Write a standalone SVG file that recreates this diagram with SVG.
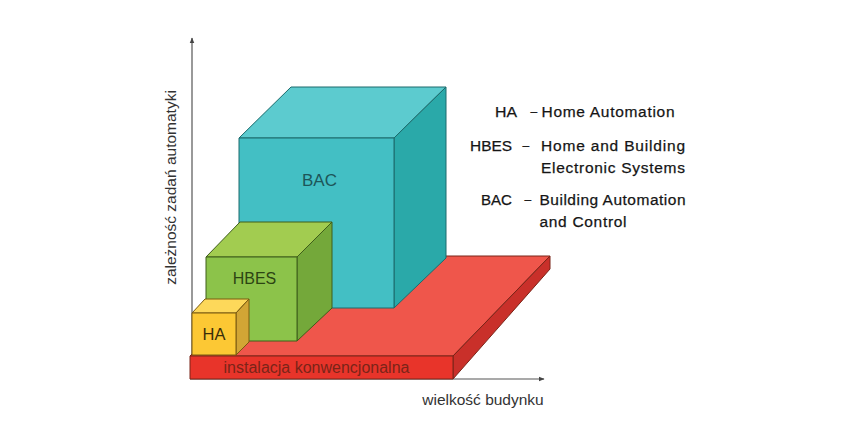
<svg xmlns="http://www.w3.org/2000/svg" width="852" height="447" viewBox="0 0 852 447">
<style>
text{font-family:"Liberation Sans",Arial,sans-serif;}
.lg{font-size:15.5px;fill:#151515;stroke:#151515;stroke-width:0.25;}
.dash{font-size:12px;fill:#151515;stroke:#151515;stroke-width:0.25;}
.ax{font-size:15.5px;fill:#333;}
.axis{stroke:#555;stroke-width:1.2;fill:none;}
.red{stroke:#7a2418;stroke-width:1;stroke-linejoin:round;}
.teal{stroke:#1c6b6c;stroke-width:1;stroke-linejoin:round;}
.grn{stroke:#3f5e1a;stroke-width:1;stroke-linejoin:round;}
.yel{stroke:#7a5a10;stroke-width:1;stroke-linejoin:round;}
</style>
<defs>
<marker id="arr" viewBox="0 0 10 10" refX="9" refY="5" markerWidth="6" markerHeight="6" orient="auto" markerUnits="userSpaceOnUse">
<path d="M0,1 L10,5 L0,9 Z" fill="#444"/>
</marker>
</defs>
<rect width="852" height="447" fill="#fff"/>
<g id="connectors">
<line class="axis" x1="192" y1="379" x2="192" y2="38" marker-end="url(#arr)"/>
<line class="axis" x1="190" y1="379" x2="544" y2="379" marker-end="url(#arr)"/>
</g>
<g id="slab">
<polygon class="red" points="190,356 287,256 550,256 453,356" fill="#ef564b"/>
<polygon class="red" points="453,356 550,256 550,269 453,379" fill="#c9302a"/>
<rect class="red" x="190" y="356" width="263" height="23" fill="#e8342a"/>
<text x="316.5" y="373" text-anchor="middle" font-size="16" fill="#7a2418">instalacja konwencjonalna</text>
</g>
<g id="bac">
<polygon class="teal" points="239,138 291,87 446,87 394,138" fill="#5ccbcf"/>
<polygon class="teal" points="394,138 446,87 446,258 394,308" fill="#2aa9a9"/>
<rect class="teal" x="239" y="138" width="155" height="170" fill="#43bfc4"/>
<text x="319.5" y="186" text-anchor="middle" font-size="17" fill="#1d5559">BAC</text>
</g>
<g id="hbes">
<polygon class="grn" points="206,257 240,222 332,222 297,257" fill="#a2cc50"/>
<polygon class="grn" points="297,257 332,222 332,308 297,341" fill="#74a83a"/>
<rect class="grn" x="206" y="257" width="91" height="84" fill="#8cc34a"/>
<text x="254.5" y="284" text-anchor="middle" font-size="16" fill="#2c4513">HBES</text>
</g>
<g id="ha">
<polygon class="yel" points="192,313 205,299 249,299 236,313" fill="#fdd85a"/>
<polygon class="yel" points="236,313 249,299 249,342 236,355" fill="#d2a535"/>
<rect class="yel" x="192" y="313" width="44" height="42" fill="#fcc834"/>
<text x="214" y="340" text-anchor="middle" font-size="16.5" fill="#3a2e0a">HA</text>
</g>
<g id="legend">
<text class="lg" x="495" y="117" textLength="22" lengthAdjust="spacingAndGlyphs">HA</text>
<text class="dash" x="530.5" y="116">–</text>
<text class="lg" x="541.5" y="117" textLength="133" lengthAdjust="spacing">Home  Automation</text>
<text class="lg" x="470" y="151" textLength="42" lengthAdjust="spacingAndGlyphs">HBES</text>
<text class="dash" x="522.5" y="150">–</text>
<text class="lg" x="541" y="151" textLength="144" lengthAdjust="spacing">Home  and  Building</text>
<text class="lg" x="541" y="173" textLength="144" lengthAdjust="spacing">Electronic   Systems</text>
<text class="lg" x="481" y="205" textLength="31" lengthAdjust="spacingAndGlyphs">BAC</text>
<text class="dash" x="524.5" y="204">–</text>
<text class="lg" x="539.5" y="205" textLength="146" lengthAdjust="spacing">Building   Automation</text>
<text class="lg" x="539.5" y="227" textLength="87" lengthAdjust="spacing">and  Control</text>
</g>
<g id="axis-labels">
<text class="ax" transform="translate(175.5,187.5) rotate(-90)" text-anchor="middle">zależność zadań automatyki</text>
<text class="ax" x="483" y="404.5" text-anchor="middle">wielkość budynku</text>
</g>
</svg>
